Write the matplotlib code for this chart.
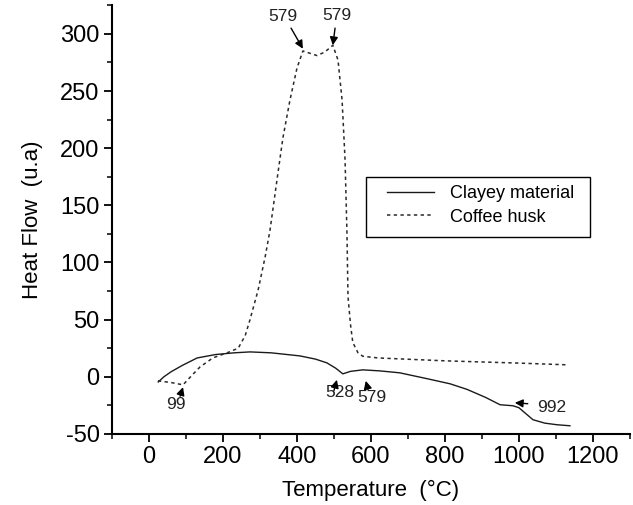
import matplotlib
matplotlib.use("Agg")
import numpy as np
from matplotlib import pyplot as plt
from matplotlib.patches import Rectangle
from matplotlib.ticker import MultipleLocator

plt.rcParams["font.family"] = ["Liberation Sans", "DejaVu Sans"]
plt.rcParams["axes.unicode_minus"] = False

clay_temp = [25, 40, 60, 90, 130, 180, 230, 273, 330, 408, 450, 481, 505, 524, 545, 578,
             624, 678, 750, 814, 860, 910, 949, 984, 1000, 1038, 1070, 1103, 1138]
clay_flow = [-4.5, 0, 4.5, 10, 16.5, 19.5, 21, 21.8, 21, 18.3, 15.5, 12.2, 7.5, 2.6, 4.8, 6.1,
             5.2, 3.5, -1.5, -6.1, -11, -18, -24.4, -25.3, -27, -37.5, -40.5, -41.9, -42.8]

husk_temp = [24, 60, 92, 115, 138, 173, 211, 241, 260, 273, 295, 314, 327, 345, 362, 381, 400,
             416, 435, 454, 475, 497, 511, 522, 530, 535, 538, 545, 551, 565, 578, 620, 678,
             800, 900, 1000, 1130]
husk_flow = [-3.5, -5, -7, 1, 8.7, 16.6, 21, 25, 36, 50, 76, 105, 128, 170, 209, 242, 270,
             285, 283, 281, 284, 290, 277, 242, 190, 128, 70, 45, 30, 21, 18, 16.5, 15.7,
             14, 13, 12, 10.5]

# label, text position, arrow tail, arrow head
peak_labels = ["579", "579", "99", "528", "579", "992"]
peak_text_xy = [(362, 315), (508, 316), (73, -24), (516, -14), (603, -18), (1088, -26.5)]
peak_tail_xy = [(384, 305), (503, 305), (84, -17), (500, -12), (592, -11), (1024, -23.5)]
peak_head_xy = [(416, 287), (497, 290), (92, -9), (508, -2.6), (586, -3.5), (989, -22.7)]

fig = plt.figure(figsize=(6.33, 5.05), dpi=100)
fig.patch.set_facecolor("white")
ax = fig.add_axes([0.177, 0.1406, 0.818, 0.849])

ax.plot(clay_temp, clay_flow, color="#1a1a1a", linewidth=1.0, label="Clayey material")
ax.plot(husk_temp, husk_flow, color="#2a2a2a", linewidth=1.1, linestyle=(0, (2.2, 2.2)),
        label="Coffee husk")

for label, txy, tail, head in zip(peak_labels, peak_text_xy, peak_tail_xy, peak_head_xy):
    ax.text(txy[0], txy[1], label, ha="center", va="center", fontsize=12.5, color="#222222")
    ax.annotate("", xy=head, xytext=tail,
                arrowprops=dict(arrowstyle="-|>", color="black", lw=1.0, mutation_scale=12,
                                shrinkA=0, shrinkB=0))

ax.set_xlim(-100, 1300)
ax.set_ylim(-50, 325)
ax.xaxis.set_major_locator(MultipleLocator(200))
ax.xaxis.set_minor_locator(MultipleLocator(100))
ax.yaxis.set_major_locator(MultipleLocator(50))
ax.yaxis.set_minor_locator(MultipleLocator(25))
ax.set_xticks([0, 200, 400, 600, 800, 1000, 1200])

for side in ("top", "right"):
    ax.spines[side].set_visible(False)
for side in ("left", "bottom"):
    ax.spines[side].set_linewidth(1.5)

ax.tick_params(which="major", direction="out", length=6, width=1.3, labelsize=17, pad=3)
ax.tick_params(which="minor", direction="out", length=3.5, width=1.1)

ax.set_xlabel("Temperature  (°C)", fontsize=16, labelpad=8)
ax.set_ylabel("Heat Flow  (u.a)", fontsize=16, labelpad=12)

# legend entries without frame, box drawn separately to match the original's padding
ax.legend(loc="upper left", bbox_to_anchor=(0.531, 0.58), fontsize=13, frameon=False,
          handlelength=2.6, handletextpad=0.9, labelspacing=0.35,
          borderpad=0, borderaxespad=0)
ax.add_patch(Rectangle((0.49, 0.459), 0.433, 0.14, transform=ax.transAxes, fill=False,
                       edgecolor="black", linewidth=1.0, zorder=5))

plt.savefig("out.png", dpi=100)
plt.close(fig)
